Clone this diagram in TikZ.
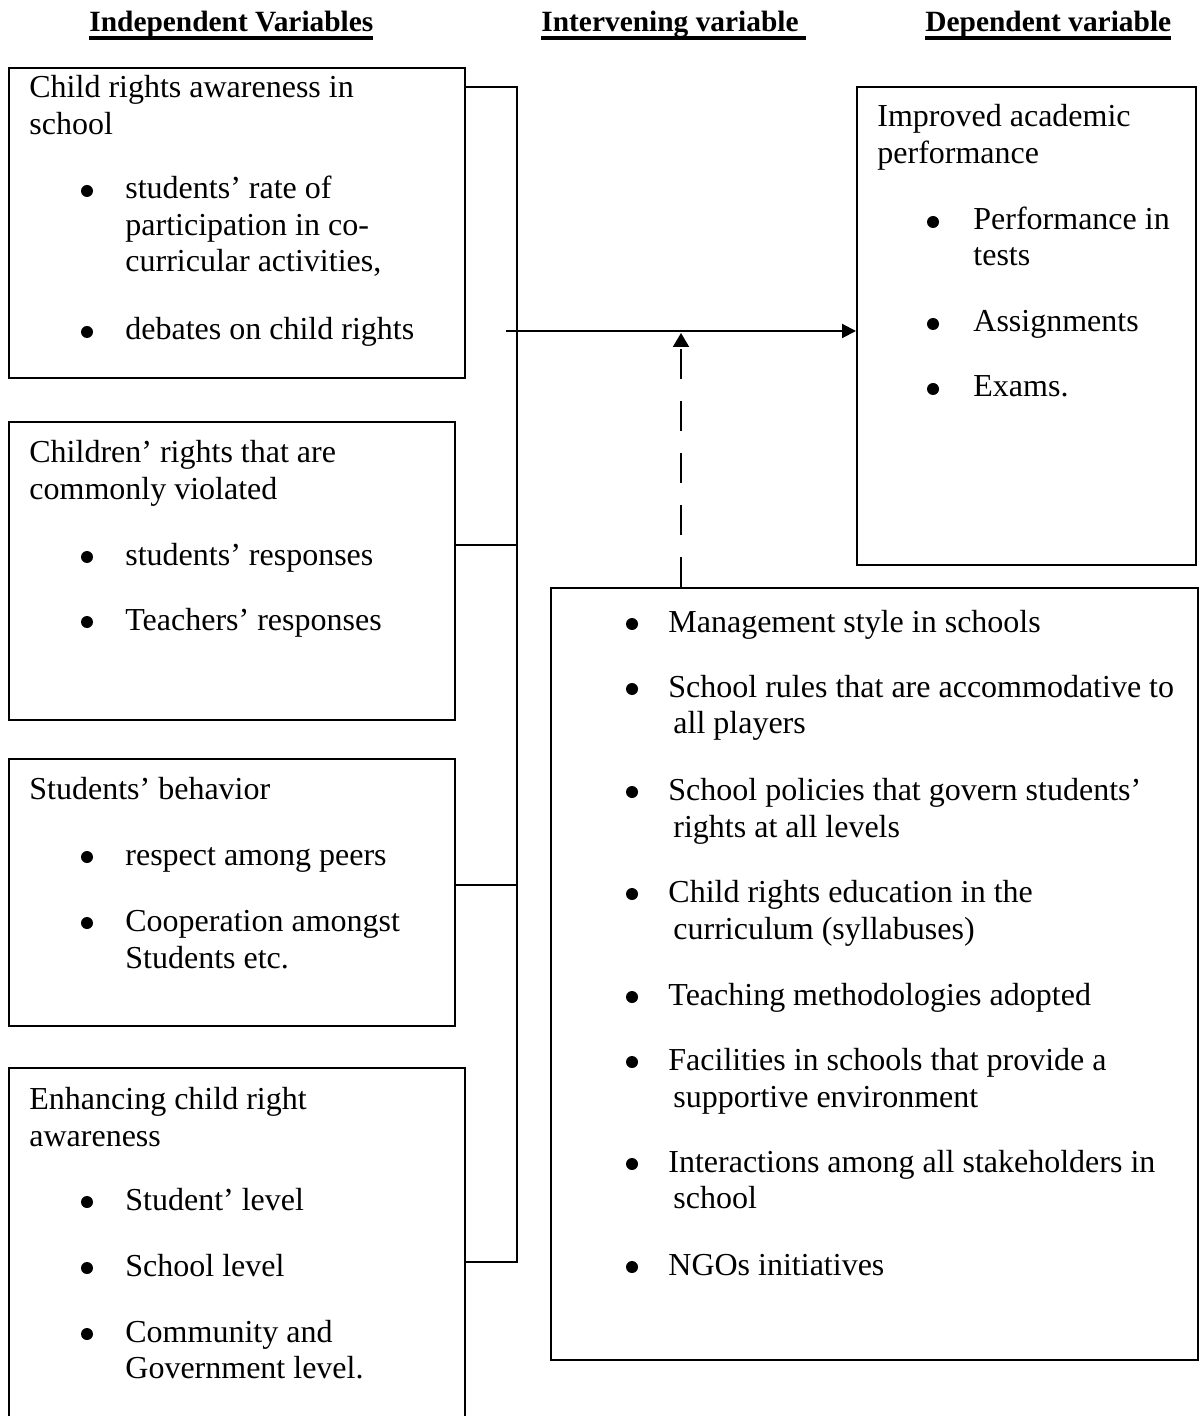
\documentclass[tikz,border=0pt]{standalone}
\usepackage{fontspec}
\setmainfont{Liberation Serif}
\usetikzlibrary{positioning,arrows.meta,fit}
% thick underline used in the column headings
\newcommand{\headline}[1]{{\setbox0\hbox{#1}\rlap{\vrule height -2pt depth 4pt width \wd0}\box0}}
\tikzset{
  varbox/.style={draw, line width=1pt, inner sep=0pt},
  boxtext/.style={anchor=base west, inner sep=0pt, font=\fontsize{16}{18}\selectfont},
  headtext/.style={anchor=base west, inner sep=0pt, font=\fontsize{14.7}{18}\selectfont\bfseries},
  dot/.style={circle, fill, inner sep=0pt, minimum size=6pt},
  linkline/.style={line width=1pt},
}
\begin{document}
\begin{tikzpicture}[x=0.5pt,y=-0.5pt]
  \useasboundingbox (0,0) rectangle (1199,1416);
  % column headings
  \node[headtext] (indepHead) at (89,32) {\headline{Independent Variables}};
  \node[headtext] (intervHead) at (541,32) {\headline{Intervening variable\ }};
  \node[headtext] (depHead) at (925,32) {\headline{Dependent variable}};
  % boxes
  \node[varbox, fit={(9,68) (465,378)}] (awareness) {};
  \node[varbox, fit={(9,422) (455,720)}] (violated) {};
  \node[varbox, fit={(9,759) (455,1026)}] (behavior) {};
  \node[varbox, fit={(9,1068) (465,1460)}] (enhancing) {};
  \node[varbox, fit={(857,87) (1196,565)}] (performance) {};
  \node[varbox, fit={(551,588) (1198,1360)}] (moderators) {};
  % independent variables: texts
  \foreach \y/\t [count=\i] in {98/Child rights awareness in, 135/school}
    \node[boxtext] (awareness-t\i) at (29,\y) {\t};
  \foreach \y/\t [count=\i] in {199/students’ rate of, 236/participation in co-, 272/{curricular activities,}, 340/debates on child rights}
    \node[boxtext] (awareness-i\i) at (125,\y) {\t};
  \foreach \y [count=\i] in {199,340}
    \node[dot] (awareness-b\i) at (87,\y-8) {};
  \foreach \y/\t [count=\i] in {463/Children’ rights that are, 500/commonly violated}
    \node[boxtext] (violated-t\i) at (29,\y) {\t};
  \foreach \y/\t [count=\i] in {565/students’ responses, 630/Teachers’ responses}
    \node[boxtext] (violated-i\i) at (125,\y) {\t};
  \foreach \y [count=\i] in {565,630}
    \node[dot] (violated-b\i) at (87,\y-8) {};
  \node[boxtext] (behavior-t1) at (29,799) {Students’ behavior};
  \foreach \y/\t [count=\i] in {865/respect among peers, 931/Cooperation amongst, 968/Students etc.}
    \node[boxtext] (behavior-i\i) at (125,\y) {\t};
  \foreach \y [count=\i] in {865,931}
    \node[dot] (behavior-b\i) at (87,\y-8) {};
  \foreach \y/\t [count=\i] in {1109/Enhancing child right, 1146/awareness}
    \node[boxtext] (enhancing-t\i) at (29,\y) {\t};
  \foreach \y/\t [count=\i] in {1210/Student’ level, 1276/School level, 1342/Community and, 1378/Government level.}
    \node[boxtext] (enhancing-i\i) at (125,\y) {\t};
  \foreach \y [count=\i] in {1210,1276,1342}
    \node[dot] (enhancing-b\i) at (87,\y-8) {};
  % dependent variable
  \foreach \y/\t [count=\i] in {127/Improved academic, 164/performance}
    \node[boxtext] (performance-t\i) at (877,\y) {\t};
  \foreach \y/\t [count=\i] in {230/Performance in, 266/tests, 332/Assignments, 397/Exams.}
    \node[boxtext] (performance-i\i) at (973,\y) {\t};
  \foreach \y [count=\i] in {230,332,397}
    \node[dot] (performance-b\i) at (933,\y-8) {};
  % intervening variables
  \foreach \y/\t [count=\i] in {632/Management style in schools, 697/School rules that are accommodative to,
      800/School policies that govern students’, 902/Child rights education in the,
      1005/Teaching methodologies adopted, 1070/Facilities in schools that provide a,
      1172/Interactions among all stakeholders in, 1275/NGOs initiatives}
    \node[boxtext] (moderators-i\i) at (668,\y) {\t};
  \foreach \y/\t [count=\i] in {733/all players, 837/rights at all levels, 939/curriculum (syllabuses),
      1107/supportive environment, 1208/school}
    \node[boxtext] (moderators-c\i) at (673,\y) {\t};
  \foreach \y [count=\i] in {632,697,800,902,1005,1070,1172,1275}
    \node[dot] (moderators-b\i) at (632,\y-8) {};
  % connectors
  \coordinate (busTop) at (517,87);
  \coordinate (busB) at (517,545);
  \coordinate (busC) at (517,885);
  \coordinate (busBottom) at (517,1262);
  \coordinate (arrowStart) at (506,331);
  \coordinate (dashTip) at (681,333);
  \draw[linkline] (awareness.east |- busTop) -- (busTop) -- (busBottom) -- (enhancing.east |- busBottom);
  \draw[linkline] (violated.east |- busB) -- (busB);
  \draw[linkline] (behavior.east |- busC) -- (busC);
  \draw[linkline, -{Triangle[length=7pt,width=7pt]}] (arrowStart) -- (arrowStart -| performance.west);
  \draw[linkline, dash pattern=on 15pt off 11pt, -{Triangle[length=7pt,width=8pt]}]
    (moderators.north -| dashTip) -- (dashTip);
\end{tikzpicture}
\end{document}
